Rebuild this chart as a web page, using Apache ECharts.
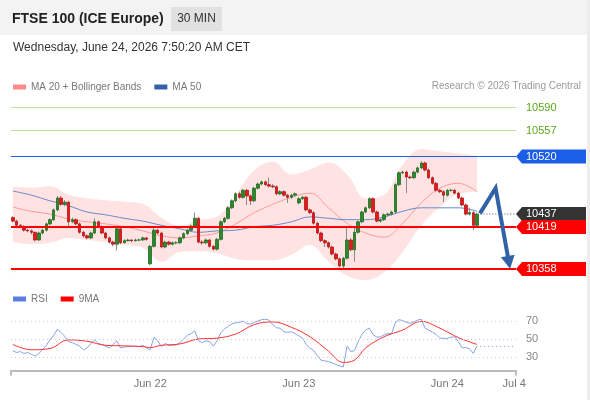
<!DOCTYPE html>
<html>
<head>
<meta charset="utf-8">
<script src="https://cdn.jsdelivr.net/npm/echarts@6/dist/echarts.min.js"></script>
<style>
  html, body { margin: 0; padding: 0; background: #fff; }
  #chart { width: 590px; height: 400px; }
</style>
</head>
<body>
<div id="chart"></div>
<script>
// x axis: 30 min slots, the last ones are empty room for the forecast
const slotCount = 136
const dayIndex = [37, 77, 117, 135]
const dayLabels = ['Jun 22', 'Jun 23', 'Jun 24', 'Jul 4']

// [open, close, low, high]
const candles = [
  [10432,10427,10425,10434],[10427,10421,10419,10429],[10421,10419,10417,10423],[10419,10414,10412,10421],
  [10414,10413,10411,10416],[10413,10411,10408,10415],[10411,10400,10398,10412],[10400,10410,10399,10412],
  [10410,10414,10408,10416],[10414,10423,10412,10425],[10423,10429,10421,10431],[10429,10443,10427,10445],
  [10443,10460,10441,10463],[10460,10451,10449,10463],[10451,10454,10448,10457],[10454,10426,10417,10456],
  [10426,10429,10424,10432],[10429,10423,10421,10431],[10423,10411,10409,10425],[10411,10406,10403,10413],
  [10406,10403,10401,10408],[10403,10410,10401,10412],[10410,10426,10408,10431],[10426,10419,10417,10428],
  [10419,10410,10408,10421],[10410,10403,10401,10412],[10403,10397,10395,10405],[10397,10394,10391,10399],
  [10394,10416,10385,10418],[10416,10396,10394,10419],[10396,10399,10395,10401],[10399,10400,10398,10402],
  [10400,10399,10397,10401],[10399,10400,10398,10402],[10400,10400,10398,10402],[10400,10403,10399,10405],
  [10403,10401,10399,10404],[10366,10391,10364,10393],[10391,10414,10389,10417],[10414,10410,10408,10416],
  [10410,10390,10388,10412],[10390,10397,10388,10399],[10397,10394,10392,10399],[10394,10396,10392,10398],
  [10396,10396,10394,10398],[10396,10403,10394,10405],[10403,10409,10401,10411],[10409,10414,10407,10416],
  [10414,10420,10412,10422],[10420,10431,10418,10439],[10431,10397,10395,10433],[10397,10396,10393,10400],
  [10396,10400,10394,10402],[10400,10391,10389,10402],[10391,10387,10385,10393],[10387,10401,10385,10403],
  [10401,10426,10399,10428],[10426,10431,10424,10433],[10431,10446,10429,10448],[10446,10456,10444,10458],
  [10456,10466,10454,10468],[10466,10461,10459,10469],[10461,10471,10459,10473],[10471,10463,10450,10473],
  [10463,10456,10450,10465],[10456,10474,10454,10476],[10474,10480,10472,10482],[10480,10483,10478,10485],
  [10483,10479,10477,10485],[10479,10477,10475,10489],[10477,10476,10474,10480],[10476,10466,10464,10478],
  [10466,10469,10464,10471],[10469,10464,10462,10471],[10464,10461,10453,10466],[10461,10464,10459,10466],
  [10464,10466,10462,10468],[10453,10459,10451,10461],[10459,10461,10457,10463],[10461,10443,10441,10463],
  [10443,10439,10437,10445],[10439,10424,10422,10441],[10424,10410,10408,10426],[10410,10399,10397,10412],
  [10399,10396,10390,10401],[10396,10390,10388,10398],[10390,10380,10378,10392],[10380,10373,10371,10382],
  [10373,10363,10361,10375],[10363,10374,10359,10376],[10374,10400,10372,10419],[10400,10386,10384,10403],
  [10386,10411,10369,10419],[10411,10426,10409,10428],[10426,10440,10424,10442],[10440,10446,10438,10448],
  [10446,10459,10444,10461],[10459,10440,10438,10461],[10440,10427,10425,10442],[10427,10429,10425,10431],
  [10429,10436,10427,10438],[10436,10437,10434,10439],[10437,10440,10435,10442],[10440,10479,10438,10481],
  [10479,10496,10477,10498],[10496,10497,10494,10499],[10497,10490,10467,10499],[10490,10489,10487,10492],
  [10489,10497,10487,10499],[10497,10503,10495,10505],[10503,10510,10501,10513],[10510,10500,10498,10512],
  [10500,10489,10487,10502],[10489,10481,10479,10491],[10481,10471,10469,10483],[10471,10469,10467,10473],
  [10469,10464,10454,10471],[10464,10471,10462,10473],[10471,10471,10469,10473],[10471,10467,10465,10473],
  [10467,10460,10458,10469],[10460,10450,10448,10462],[10450,10437,10435,10452],[10437,10439,10435,10446],
  [10439,10421,10414,10441],[10421,10437,10419,10439]
]

// indicator samples, every 5 candles
const bbIdx   = [0,5,10,15,20,25,30,35,40,45,50,55,60,65,70,75,80,85,90,95,100,105,110,115,120,125]
const bbUpper = [10476,10474,10476,10464,10459,10456,10454,10451,10431,10420,10428,10433,10463,10499,10511,10493,10500,10510,10493,10459,10464,10507,10529,10526,10523,10520]
const bbLower = [10397,10394,10396,10403,10400,10397,10393,10389,10369,10383,10384,10381,10373,10371,10371,10379,10393,10369,10349,10343,10354,10383,10421,10447,10466,10469]
const ma20    = [10447,10441,10437,10430,10426,10423,10419,10413,10406,10403,10406,10410,10423,10439,10451,10461,10467,10446,10424,10410,10404,10424,10453,10474,10481,10469]
const ma50    = [10470,10464,10456,10449,10440,10436,10431,10427,10421,10416,10411,10413,10414,10419,10421,10426,10433,10431,10429,10429,10433,10441,10446,10446,10446,10441]

const rsi = [
  37,35,36,34,35,33,31,34,38,43, 49,54,61,57,53,47,46,44,42,38,
  40,45,49,45,44,42,40,44,48,40, 41,41.5,41.5,42,41.5,43,40,38,52,48,
  41.5,45,43,43,43.5,46,50,54,56,59, 48,46,48,47,42,48,57,61,64,67,
  68,68.5,70,67,66.5,68.5,70,71.5,72,71, 66,62.5,62,58,57.5,58,56,53.5,51,44,
  40,37,31.5,26.5,25.6,25,23.5,21.5,20,19, 42,36,37,47,55,60,62,55,52,52.5,
  54.5,56,56,68,71.5,70.5,68.5,67.4,69,71, 72,62,60,57.5,55,51,50.7,50.7,52,52.5,
  47,40,40.5,39,34,42.5
]
const rsiMaIdx = [0,5,10,15,20,25,30,35,37,40,45,50,55,60,65,70,75,80,85,89,92,95,100,105,110,115,120,125]
const rsiMa    = [44,38,39.5,49,47.5,43,42.4,41.5,40.5,43,44.5,50,51,55.5,66,69,63,52.5,36.5,24,26.5,40,52.5,60,69.5,62,51.5,44]
const rsiLevels = [30, 50, 70]

const levels = [10590, 10557, 10520, 10437, 10419, 10358]
// forecast arrow: start, turn, tip  ([slot, price])
const forecast = [[125.8, 10438], [130, 10474], [133.9, 10359]]

const levelStyle = [
  {line: '#bddf9d', width: 1, text: '#5aa81c'},
  {line: '#bddf9d', width: 1, text: '#5aa81c'},
  {line: '#1b5fe6', width: 1, box: '#1b5fe6'},
  {line: '#aaaaaa', width: 2, dash: [1, 2], box: '#333333', fromLast: true},
  {line: '#ff0000', width: 2, box: '#ff0000'},
  {line: '#ff0000', width: 2, box: '#ff0000'}
]

const FONT = 'Liberation Sans'
const lastIdx = candles.length - 1
const lastRsi = rsi[rsi.length - 1]
const zip = (xs, ys) => xs.map((x, k) => [x, ys[k]])
const bodies = candles.map(c => [c[0], c[1], Math.min(c[0], c[1]), Math.max(c[0], c[1])])
const categories = []
for (let i = 0; i < slotCount; i++) categories.push(String(i))
const labelFor = {}
dayIndex.forEach((d, k) => { labelFor[d] = dayLabels[k] })

function renderLevel(params, api) {
  const cs = params.coordSys
  const v = api.value(1)
  const st = levelStyle[api.value(2)]
  let y = api.coord([0, v])[1]
  y = Math.round(y) + (st.width % 2 ? 0.5 : 0)
  const right = cs.x + cs.width
  const x0 = st.fromLast ? api.coord([lastIdx + 0.9, v])[0] : cs.x
  const kids = [{
    type: 'line',
    shape: {x1: x0, y1: y, x2: right, y2: y},
    style: {stroke: st.line, lineWidth: st.width, lineDash: st.dash || null}
  }]
  if (st.box) {
    kids.push({
      type: 'polygon',
      shape: {points: [[right, y], [right + 6, y - 7], [right + 70, y - 7], [right + 70, y + 7], [right + 6, y + 7]]},
      style: {fill: st.box}
    })
  }
  kids.push({
    type: 'text',
    style: {
      x: right + 10, y: y, text: String(v),
      fill: st.box ? '#fff' : st.text,
      font: '11px "Liberation Sans"',
      verticalAlign: 'middle', textVerticalAlign: 'middle'
    }
  })
  return {type: 'group', children: kids}
}

function renderForecast(params, api) {
  const pts = forecast.map(p => api.coord(p))
  const tip = pts[pts.length - 1]
  const prev = pts[pts.length - 2]
  const dx = tip[0] - prev[0], dy = tip[1] - prev[1]
  const len = Math.hypot(dx, dy)
  const ux = dx / len, uy = dy / len
  const head = 13, half = 7
  const bx = tip[0] - ux * head, by = tip[1] - uy * head
  const shaft = pts.slice(0, -1).concat([[tip[0] - ux * (head - 2), tip[1] - uy * (head - 2)]])
  return {
    type: 'group',
    children: [
      {type: 'polyline', shape: {points: shaft}, style: {stroke: '#2f62a6', lineWidth: 4, fill: null, lineJoin: 'miter'}},
      {type: 'polygon', shape: {points: [tip, [bx - uy * half, by + ux * half], [bx + uy * half, by - ux * half]]}, style: {fill: '#2f62a6'}}
    ]
  }
}

const chart = echarts.init(document.getElementById('chart'))
chart.setOption({
  animation: false,
  textStyle: {fontFamily: FONT},
  graphic: [
    {type: 'rect', shape: {x: 0, y: 0, width: 590, height: 35}, style: {fill: '#f3f3f3'}, z: -10},
    {type: 'rect', shape: {x: 587, y: 0, width: 3, height: 400}, style: {fill: '#ededed'}, z: -10},
    {type: 'rect', shape: {x: 171, y: 7, width: 51, height: 24}, style: {fill: '#e1e1e1'}},
    {type: 'text', style: {x: 12, y: 19, text: 'FTSE 100 (ICE Europe)', font: 'bold 14px "Liberation Sans"', fill: '#222', verticalAlign: 'middle', textVerticalAlign: 'middle'}},
    {type: 'text', style: {x: 196.5, y: 19, text: '30 MIN', font: '12px "Liberation Sans"', fill: '#333', align: 'center', textAlign: 'center', verticalAlign: 'middle', textVerticalAlign: 'middle'}},
    {type: 'text', style: {x: 13, y: 48, text: 'Wednesday, June 24, 2026 7:50:20 AM CET', font: '12px "Liberation Sans"', fill: '#333', verticalAlign: 'middle', textVerticalAlign: 'middle'}},
    {type: 'text', style: {x: 581, y: 86, text: 'Research \u00a9 2026 Trading Central', font: '10px "Liberation Sans"', fill: '#9a9a9a', align: 'right', textAlign: 'right', verticalAlign: 'middle', textVerticalAlign: 'middle'}}
  ],
  legend: [
    {
      left: 13, top: 82, padding: 0, itemWidth: 13, itemHeight: 5, itemGap: 13, icon: 'rect', selectedMode: false,
      textStyle: {fontSize: 10, color: '#777', fontFamily: FONT},
      data: [{name: 'MA 20 + Bollinger Bands', itemStyle: {color: '#ff8a8a'}}, {name: 'MA 50', itemStyle: {color: '#3461a8'}}]
    },
    {
      left: 13, top: 294, padding: 0, itemWidth: 13, itemHeight: 5, itemGap: 13, icon: 'rect', selectedMode: false,
      textStyle: {fontSize: 10, color: '#777', fontFamily: FONT},
      data: [{name: 'RSI', itemStyle: {color: '#5b7fe0'}}, {name: '9MA', itemStyle: {color: '#ff0000'}}]
    }
  ],
  grid: [
    {left: 11, right: 74, top: 100, height: 182},
    {left: 11, right: 74, top: 307.5, height: 63}
  ],
  xAxis: [
    {type: 'category', gridIndex: 0, data: categories, show: false},
    {type: 'value', gridIndex: 0, min: -0.5, max: slotCount - 0.5, show: false},
    {type: 'category', gridIndex: 1, data: categories, show: false},
    {
      type: 'value', gridIndex: 1, position: 'bottom', min: -0.5, max: slotCount - 0.5,
      splitLine: {show: false},
      axisLine: {show: true, onZero: false, lineStyle: {color: '#bbbbbb', width: 2}},
      axisTick: {show: true, length: 5, lineStyle: {color: '#bbbbbb', width: 2}, customValues: [-0.5, slotCount - 0.5]},
      axisLabel: {color: '#777', fontSize: 11, margin: 8, customValues: dayIndex, formatter: v => labelFor[v] || ''}
    }
  ],
  yAxis: [
    {type: 'value', gridIndex: 0, min: 10340, max: 10600, show: false},
    {type: 'value', gridIndex: 1, min: 15, max: 85, show: false}
  ],
  series: [
    // Bollinger band: pink down from the upper band, masked in white below the lower band
    {
      type: 'line', xAxisIndex: 1, yAxisIndex: 0, data: zip(bbIdx, bbUpper), silent: true, z: 1,
      smooth: 0.4, symbol: 'none', lineStyle: {color: '#ffe3e3', width: 1},
      areaStyle: {color: '#ffe3e3', opacity: 1, origin: 'start'}
    },
    {
      type: 'line', xAxisIndex: 1, yAxisIndex: 0, data: zip(bbIdx, bbLower), silent: true, z: 1,
      smooth: 0.4, symbol: 'none', lineStyle: {width: 0, opacity: 0},
      areaStyle: {color: '#ffffff', opacity: 1, origin: 'start'}
    },
    {
      name: 'MA 20 + Bollinger Bands', type: 'line', xAxisIndex: 1, yAxisIndex: 0, data: zip(bbIdx, ma20), z: 2,
      smooth: 0.4, symbol: 'none', lineStyle: {color: '#ff9a9a', width: 1}, itemStyle: {color: '#ff8a8a'}
    },
    {
      name: 'MA 50', type: 'line', xAxisIndex: 1, yAxisIndex: 0, data: zip(bbIdx, ma50), z: 2,
      smooth: 0.4, symbol: 'none', lineStyle: {color: '#6a88c8', width: 1}, itemStyle: {color: '#3461a8'}
    },
    {
      type: 'candlestick', xAxisIndex: 0, yAxisIndex: 0, data: candles, barWidth: 1, z: 3,
      itemStyle: {color: '#8a8a8a', color0: '#8a8a8a', borderColor: '#8a8a8a', borderColor0: '#8a8a8a', borderWidth: 1}
    },
    {
      type: 'candlestick', xAxisIndex: 0, yAxisIndex: 0, data: bodies, barWidth: 3, z: 4,
      itemStyle: {color: '#2b8a2b', color0: '#e41b1b', borderColor: '#1f6a1f', borderColor0: '#b81212', borderWidth: 0.8}
    },
    {
      type: 'custom', xAxisIndex: 1, yAxisIndex: 0, renderItem: renderLevel, clip: false, z: 5,
      data: levels.map((v, k) => [0, v, k])
    },
    {
      type: 'custom', xAxisIndex: 1, yAxisIndex: 0, renderItem: renderForecast, clip: false, z: 6,
      data: [[0, 0]]
    },
    {
      name: 'RSI', type: 'line', xAxisIndex: 2, yAxisIndex: 1, data: rsi,
      symbol: 'none', lineStyle: {color: '#86a2ea', width: 1}, itemStyle: {color: '#5b7fe0'}
    },
    {
      name: '9MA', type: 'line', xAxisIndex: 3, yAxisIndex: 1, data: zip(rsiMaIdx, rsiMa),
      smooth: 0.4, symbol: 'none', lineStyle: {color: '#ff3030', width: 1}, itemStyle: {color: '#ff0000'},
      markLine: {
        silent: true, symbol: 'none', animation: false,
        data: rsiLevels.map(v => ({
          yAxis: v,
          lineStyle: {color: '#cccccc', type: [1, 3], width: 1},
          label: {show: true, position: 'end', distance: 10, formatter: String(v), color: '#888', fontSize: 11}
        })).concat([[
          {coord: [lastIdx + 0.8, lastRsi], lineStyle: {color: '#86a2ea', type: [1, 3], width: 1}, label: {show: false}},
          {coord: [slotCount - 0.7, lastRsi]}
        ]])
      }
    }
  ]
})
</script>
</body>
</html>
